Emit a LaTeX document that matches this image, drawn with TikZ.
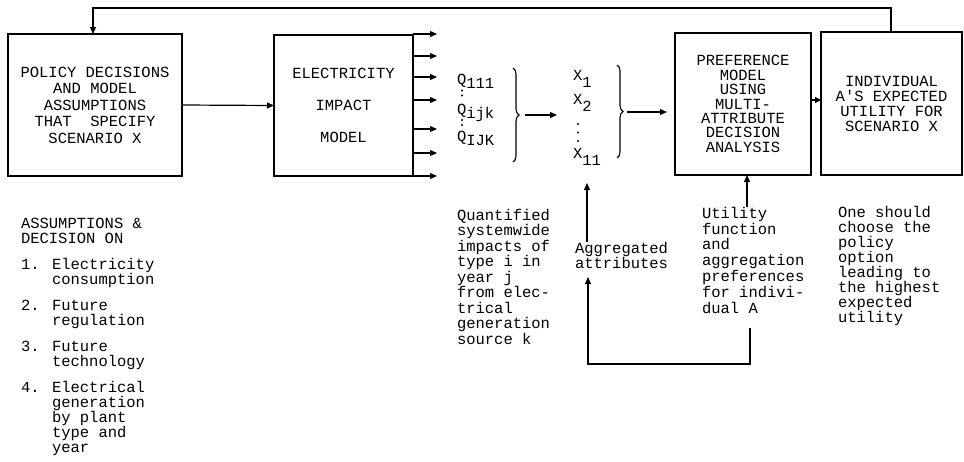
\documentclass[tikz,border=0pt]{standalone}
\usepackage{fontspec}
\newfontfamily\tw{Liberation Mono}[Ligatures=TeXOff]
\usetikzlibrary{arrows.meta,decorations.pathreplacing}
\begin{document}
\begin{tikzpicture}[x=1pt,y=-1pt,
  every node/.style={font={\tw\fontsize{15.5}{15}\selectfont}, inner sep=0pt, outer sep=0pt},
  box/.style={draw, line width=1.2pt, align=center},
  arr/.style={line width=1.2pt, -{Triangle[length=7pt,width=6pt]}},
  sarr/.style={line width=1.2pt, -{Triangle[length=6pt,width=6pt]}},
  brc/.style={decorate, decoration={brace, amplitude=6pt}, line width=1.1pt},
  txt/.style={align=left, anchor=north west},
  lbl/.style={anchor=base west}]
\useasboundingbox (0,0) rectangle (964,461);
% boxes
\node[box, minimum width=174pt, minimum height=142pt] (b1) at (95,105)
  {POLICY DECISIONS\\[1.5pt]AND MODEL\\[1.5pt]ASSUMPTIONS\\[1.5pt]THAT\ \ SPECIFY\\[1.5pt]SCENARIO X};
\node[box, minimum width=139pt, minimum height=141pt] (b2) at (343.5,105.5)
  {ELECTRICITY\\[17pt]IMPACT\\[17pt]MODEL};
\node[box, minimum width=136pt, minimum height=142pt] (b3) at (743,104)
  {PREFERENCE\\[-0.6pt]MODEL\\[-0.6pt]USING\\[-0.6pt]MULTI-\\[-0.6pt]ATTRIBUTE\\[-0.6pt]DECISION\\[-0.6pt]ANALYSIS};
\node[box, minimum width=141pt, minimum height=143pt] (b4) at (891.5,103.5)
  {INDIVIDUAL\\A'S EXPECTED\\UTILITY FOR\\SCENARIO X};
% feedback loop
\coordinate (fbR) at (891,8);
\coordinate (fbL) at (93,8);
\draw[arr] (b4.north -| fbR) -- (fbR) -- (fbL) -- (b1.north -| fbL);
% box1 -> box2
\draw[arr] (b1.east) -- (b2.west);
% outputs of box2
\foreach \y [count=\i] in {34,56,77,100,129,153,176} {
  \coordinate (o\i) at (437,\y);
  \draw[arr] (b2.east |- o\i) -- (o\i);
}
% Q labels
\node[lbl] (q1) at (457,84.5) {Q\raisebox{-4pt}{111}};
\node[lbl] (q2) at (457,114) {Q\raisebox{-4pt}{ijk}};
\node[lbl] (q3) at (457,141) {Q\raisebox{-4pt}{IJK}};
\fill (462,90.5) circle (1.1pt) (462,95.5) circle (1.1pt)
      (462,120) circle (1.1pt) (462,125) circle (1.1pt);
\draw[brc] (513,68) -- (513,162);
\coordinate (br1s) at (525,115);
\coordinate (br1e) at (557,115);
\draw[arr] (br1s) -- (br1e);
% X labels
\node[lbl] (x1) at (573,80.5) {X\raisebox{-7pt}{1}};
\node[lbl] (x2) at (573,104.5) {X\raisebox{-7pt}{2}};
\fill (578,124) circle (1.2pt) (578,132.5) circle (1.2pt) (578,141) circle (1.2pt);
\node[lbl] (x11) at (573,158.5) {X\raisebox{-7pt}{11}};
\draw[brc] (617,65) -- (617,158);
\coordinate (br2s) at (627,112);
\coordinate (br2e) at (667,112);
\draw[arr] (br2s) -- (br2e);
% box3 -> box4
\coordinate (m34) at (0,100);
\draw[sarr] (b3.east |- m34) -- (b4.west |- m34);
% annotations
\node[txt] (ass) at (21,218) {ASSUMPTIONS \&\\DECISION ON\\[11pt]1. Electricity\\\phantom{1. }consumption\\[11pt]2. Future\\\phantom{2. }regulation\\[11pt]3. Future\\\phantom{3. }technology\\[11pt]4. Electrical\\\phantom{4. }generation\\\phantom{4. }by plant\\\phantom{4. }type and\\\phantom{4. }year};
\node[txt, font={\tw\fontsize{15.5}{15.5}\selectfont}] (quant) at (457,209) {Quantified\\systemwide\\impacts of\\type i in\\year j\\from elec-\\trical\\generation\\source k};
\node[txt] (agg) at (575,242) {Aggregated\\attributes};
\node[txt, font={\tw\fontsize{15.5}{15.8}\selectfont}] (util) at (702,207) {Utility\\function\\and\\aggregation\\preferences\\for indivi-\\dual A};
\node[txt] (one) at (838,206) {One should\\choose the\\policy\\option\\leading to\\the highest\\expected\\utility};
% arrows of annotations
\coordinate (ua) at (747,0);
\draw[arr] (util.north -| ua) -- (b3.south -| ua);
\coordinate (xa) at (587,183);
\draw[arr] (agg.north -| xa) -- (xa);
\coordinate (l1) at (750,328);
\coordinate (l2) at (750,364);
\coordinate (l3) at (588,364);
\coordinate (l4) at (588,277);
\draw[arr] (l1) -- (l2) -- (l3) -- (l4);
\end{tikzpicture}
\end{document}
